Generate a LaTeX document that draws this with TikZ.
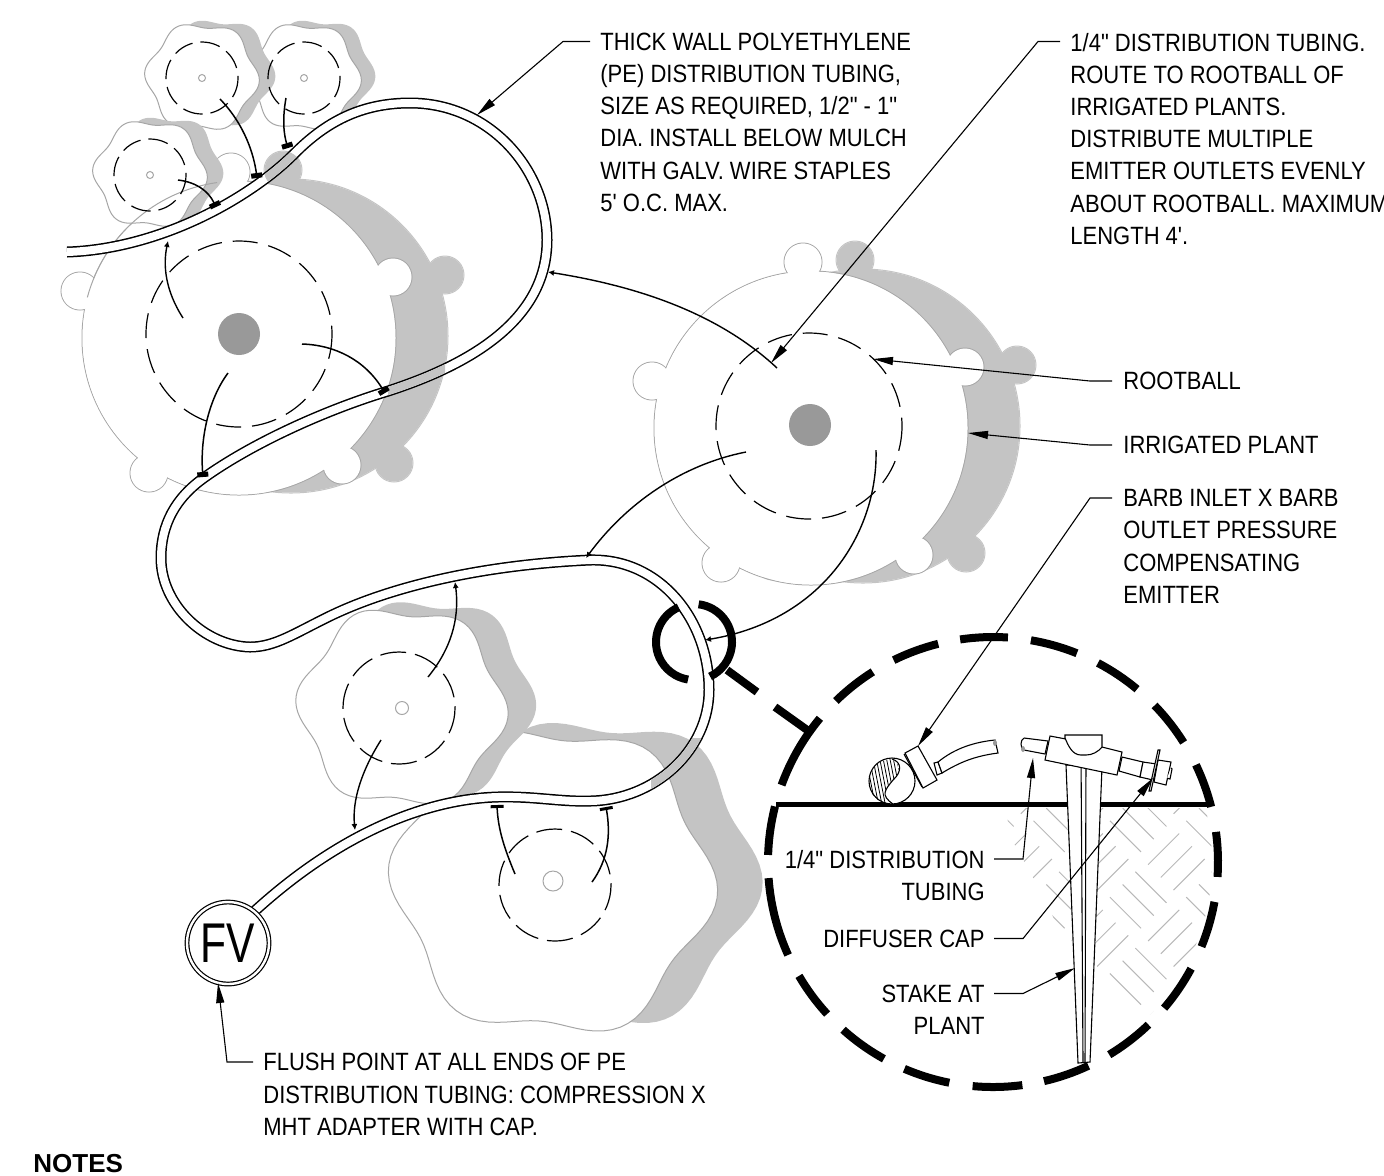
\documentclass[tikz,border=0pt]{standalone}
\usepackage{fontspec}
\setmainfont{Liberation Sans}[FakeStretch=0.88,Ligatures=TeXOff]
\newfontfamily\notesfont{Liberation Sans}[Ligatures=TeXOff]
\newfontfamily\fvfont{Liberation Sans}[FakeStretch=0.76]
\usetikzlibrary{arrows.meta}
\definecolor{plantshade}{HTML}{C4C4C4}
\definecolor{plantline}{HTML}{A6A6A6}
\definecolor{rootcore}{HTML}{999999}
\definecolor{soilline}{HTML}{B8B8B8}
\tikzset{
  outline/.style={draw=plantline,line width=0.5pt},
  rootball/.style={draw=black,line width=0.6pt},
  tube/.style={draw=black,line width=0.75pt,double=white,double distance=4pt},
  lateral/.style={draw=black,line width=0.75pt,-{Rectangle[length=2.5pt,width=5.5pt]}},
  lateralthin/.style={draw=black,line width=0.75pt,-{Rectangle[length=1.5pt,width=6.5pt]}},
  lateraltip/.style={draw=black,line width=0.7pt,-{Latex[length=3pt,width=3pt]}},
  leader/.style={draw=black,line width=0.55pt,-{Triangle[length=10pt,width=4pt]}},
  labeltext/.style={inner sep=0pt,font=\fontsize{12.5}{16.1}\selectfont},
  detail/.style={draw=black,line width=0.55pt,fill=white},
  callout/.style={draw=black,line width=4pt},
}
\newcommand{\bumpplant}[4]{
  \foreach \dx/\dy in {-159/-47,-90/135,103/127,154/-61,-8/-166} {
    \draw[draw=#2,line width=0.5pt] (#3+\dx,#4+\dy) circle[radius=19];
  }
  \draw[draw=#2,line width=0.5pt] (#3,#4) circle[radius=157];
  \foreach \dx/\dy in {-159/-47,-90/135,103/127,154/-61,-8/-166} {
    \fill[#1] (#3+\dx,#4+\dy) circle[radius=18.5];
  }
  \fill[#1] (#3,#4) circle[radius=156.5];
}
\newcommand{\lobepath}[3]{
  plot[domain=0:360,samples=121] ({#1+(#3+0.065*#3*cos(6*(\x+175)))*cos(\x)},{#2-1+0.97*(#3+0.065*#3*cos(6*(\x+175)))*sin(\x)}) -- cycle
}
\newcommand{\tubeline}{
  (67,252) .. controls (130,250) and (200,225) .. (258,184)
  .. controls (272,174) and (283,165) .. (295,153)
  .. controls (325,123) and (360,103) .. (410,103)
  .. controls (490,103) and (547,170) .. (547,240)
  .. controls (547,320) and (470,365) .. (385,392)
  .. controls (320,412) and (250,445) .. (205,477)
  .. controls (175,498) and (161,525) .. (161,558)
  .. controls (161,605) and (205,646) .. (250,647)
  .. controls (275,647) and (295,633) .. (330,616)
  .. controls (390,587) and (480,565) .. (590,560)
  .. controls (660,558) and (709,620) .. (709,690)
  .. controls (709,750) and (655,800) .. (590,801)
  .. controls (560,802) and (535,796) .. (497,797)
  .. controls (430,799) and (340,830) .. (245,920)
}
\begin{document}
\begin{tikzpicture}[x=0.5pt,y=0.5pt,yscale=-1]
\useasboundingbox (0,0) rectangle (1384,1175);

\fill[plantshade] \lobepath{598}{874}{155};
\filldraw[fill=white,outline] \lobepath{553}{882}{155};
\fill[plantshade] \lobepath{430}{700}{100};
\filldraw[fill=white,outline] \lobepath{402}{708}{100};

\bumpplant{plantshade}{plantshade}{291}{336}
\bumpplant{white}{plantline}{239}{338}
\bumpplant{plantshade}{plantshade}{863}{426}
\bumpplant{white}{plantline}{811}{428}

\fill[plantshade] \lobepath{318}{74}{54};
\filldraw[fill=white,outline] \lobepath{304}{78}{54};
\fill[plantshade] \lobepath{218}{74}{54};
\filldraw[fill=white,outline] \lobepath{202}{78}{54};
\fill[plantshade] \lobepath{166}{171}{54};
\filldraw[fill=white,outline] \lobepath{150}{175}{54};
\draw[outline] (239,338) ++(195:157) arc[start angle=195,end angle=262,radius=157];

\fill[rootcore] (239,334) circle[radius=21];
\fill[rootcore] (810,425) circle[radius=21];
\draw[outline] (202,78) circle[radius=3.5];
\draw[outline] (304,78) circle[radius=3.5];
\draw[outline] (150,175) circle[radius=3.5];
\draw[outline] (402,708) circle[radius=6.5];
\draw[outline] (553,881) circle[radius=10];

\draw[rootball,dash pattern=on 10pt off 4pt] (202,78) circle[radius=36];
\draw[rootball,dash pattern=on 10pt off 4pt] (304,78) circle[radius=36];
\draw[rootball,dash pattern=on 10pt off 4pt] (150,175) circle[radius=36];
\draw[rootball,dash pattern=on 12.5pt off 5.5pt] (239,334) circle[radius=93];
\draw[rootball,dash pattern=on 12.5pt off 5.5pt] (809,426) circle[radius=93];
\draw[rootball,dash pattern=on 13pt off 4.5pt] (399,708) circle[radius=56];
\draw[rootball,dash pattern=on 13pt off 4.5pt] (555,885) circle[radius=56];

\draw[tube] \tubeline;
\begin{scope}
\clip (283,170) circle[radius=19];
\draw[plantshade,line width=3.9pt] \tubeline;
\end{scope}
\begin{scope}
\clip (388,350) rectangle (445,410);
\draw[plantshade,line width=3.9pt] \tubeline;
\end{scope}
\begin{scope}
\clip (651,738) rectangle (712,800);
\draw[plantshade,line width=3.9pt] \tubeline;
\end{scope}

\draw[lateral] (220,99) .. controls (245,125) and (254,155) .. (257,178);
\draw[lateral] (286,98) .. controls (282,120) and (284,135) .. (288,148);
\draw[lateral] (178,180) .. controls (195,182) and (208,190) .. (216,207);
\draw[lateraltip] (183,318) .. controls (165,290) and (163,265) .. (168,241);
\draw[lateral] (302,344) .. controls (335,345) and (365,360) .. (385,393);
\draw[lateral] (228,373) .. controls (208,400) and (200,440) .. (203,477);
\draw[lateraltip] (777,368) .. controls (715,310) and (630,285) .. (548,272);
\draw[lateraltip] (746,452) .. controls (680,465) and (625,505) .. (586,558);
\draw[lateraltip] (876,450) .. controls (878,530) and (825,620) .. (705,640);
\draw[lateraltip] (428,677) .. controls (450,650) and (460,620) .. (455,582);
\draw[lateraltip] (381,740) .. controls (362,770) and (352,800) .. (355,830);
\draw[lateralthin] (515,874) .. controls (505,850) and (498,830) .. (497,805);
\draw[lateralthin] (592,882) .. controls (608,860) and (611,835) .. (606,807);

\node[circle,draw=black,fill=white,line width=0.6pt,double,double distance=1.2pt,minimum size=41pt,inner sep=0pt,font=\fvfont\fontsize{28}{28}\selectfont] (fv) at (228,943) {FV};

\draw[callout] (694,642) ++(246:38) arc[start angle=246,end angle=99,radius=38];
\draw[callout] (694,642) ++(-83:38) arc[start angle=-83,end angle=65,radius=38];
\draw[callout] (727,670) -- (757,692);
\draw[callout] (775,707) -- (810,732);
\coordinate (inset) at (993,862);
\foreach \a/\b in {200/219.7,225.7/237.7,243.8/255.9,261.6/273.8,279.7/291.9,297.8/309.8,315.9/327.9,334.4/345.8,352.3/363.8,10.2/22.1,28.3/40.5,46.3/58.9,64.9/76.9,82.5/95.2,101.2/113.2,119/131.8,137.5/149.6,155.6/175.9,181.8/194.3} {
  \draw[callout] (inset) ++(\a:225) arc[start angle=\a,end angle=\b,radius=225];
}
\draw[draw=black,line width=2.5pt] (776,804) -- (1210,804);

\begin{scope}
\clip (inset) circle[radius=219];
\clip (1005,808) -- (1225,808) -- (1225,1040) -- (1150,1015) -- (1105,978) -- (1057,925) -- (1040,890) -- (1012,840) -- cycle;
\begin{scope}[shift={(1100,900)},rotate=45]
\foreach \i in {-4,...,4} {
  \foreach \j in {-4,...,4} {
    \pgfmathtruncatemacro{\k}{\i+\j}
    \ifodd\k
      \foreach \n in {9,27,45} {\draw[soilline,line width=0.5pt] (54*\i+5,54*\j+\n) -- (54*\i+49,54*\j+\n);}
    \else
      \foreach \n in {9,27,45} {\draw[soilline,line width=0.5pt] (54*\i+\n,54*\j+5) -- (54*\i+\n,54*\j+49);}
    \fi
  }
}
\end{scope}
\end{scope}

\draw[detail] (1066,765) -- (1102,767) -- (1090,1062) -- (1078,1063) -- cycle;
\draw[line width=0.55pt] (1081,755) -- (1083,1062);
\draw[line width=0.55pt] (1086,755) -- (1085,1062);

\draw[detail] (1024,738) -- (1048,741) -- (1045,754) -- (1024,750) .. controls (1020,748) and (1020,740) .. (1024,738);
\fill[rootcore] (1023,749) ellipse[x radius=2,y radius=3];
\draw[detail] (1050,736) -- (1066,739) -- (1102,747) -- (1122,752) -- (1117,775) -- (1045,760) -- cycle;
\draw[detail] (1065,735) -- (1102,735) -- (1102,747) .. controls (1098,752) and (1092,755) .. (1086,755) -- (1081,755) .. controls (1072,755) and (1068,745) .. (1065,738) -- cycle;
\draw[detail] (1122,757) -- (1143,762) -- (1140,777) -- (1119,771) -- cycle;
\draw[detail] (1143,762) -- (1157,764) -- (1153,780) -- (1140,777) -- cycle;
\draw[detail] (1158,760) -- (1171,762) -- (1166,785) -- (1154,782) -- cycle;
\draw[detail] (1171,768) -- (1172,769) -- (1170,779) -- (1167,778);
\draw[detail] (1158,750) -- (1160,750) -- (1151,791) -- (1149,791) -- cycle;

\draw[detail] (892,781) circle[radius=23];
\begin{scope}
\clip (890,759) arc[start angle=-95,end angle=-265,radius=23] .. controls (880,795) and (885,790) .. (893,780) .. controls (902,770) and (900,762) .. (890,759);
\foreach \n in {0,...,17} {
  \draw[line width=0.4pt] (862+3.4*\n,755) -- (872+3.4*\n,806);
}
\end{scope}
\draw[line width=0.55pt] (892,759) .. controls (902,762) and (902,772) .. (893,780) .. controls (885,790) and (880,795) .. (893,804);
\draw[detail] (905,753) -- (918,746) -- (937,780) -- (923,788) -- cycle;
\draw[line width=0.55pt] (904,754) -- (922,787);
\draw[detail] (934,763) -- (938,762) -- (942,773) -- (937,775) -- cycle;
\draw[detail] (938,762) .. controls (955,748) and (975,742) .. (995,740) -- (998,753) .. controls (975,756) and (960,762) .. (942,773) -- cycle;
\fill[rootcore] (995,743) ellipse[x radius=2,y radius=3];

\node[labeltext,anchor=north west,align=left] (thicklabel) at (600,32.5) {THICK WALL POLYETHYLENE\\(PE) DISTRIBUTION TUBING,\\SIZE AS REQUIRED, 1/2" - 1"\\DIA. INSTALL BELOW MULCH\\WITH GALV. WIRE STAPLES\\5' O.C. MAX.};
\node[labeltext,anchor=north west,align=left] (distlabel) at (1070,32.5) {1/4" DISTRIBUTION TUBING.\\ROUTE TO ROOTBALL OF\\IRRIGATED PLANTS.\\DISTRIBUTE MULTIPLE\\EMITTER OUTLETS EVENLY\\ABOUT ROOTBALL. MAXIMUM\\LENGTH 4'.};
\node[labeltext,anchor=north west] (rootlabel) at (1123,372) {ROOTBALL};
\node[labeltext,anchor=north west] (plantlabel) at (1123,436) {IRRIGATED PLANT};
\node[labeltext,anchor=north west,align=left] (barblabel) at (1123,489) {BARB INLET X BARB\\OUTLET PRESSURE\\COMPENSATING\\EMITTER};
\node[labeltext,anchor=north west,align=left] (flushlabel) at (263,1053) {FLUSH POINT AT ALL ENDS OF PE\\DISTRIBUTION TUBING: COMPRESSION X\\MHT ADAPTER WITH CAP.};
\node[labeltext,anchor=north east,align=right] (tubinglabel) at (985,850) {1/4" DISTRIBUTION\\TUBING};
\node[labeltext,anchor=north east] (caplabel) at (985,929.5) {DIFFUSER CAP};
\node[labeltext,anchor=north east,align=right] (stakelabel) at (985,984.5) {STAKE AT\\PLANT};
\node[inner sep=0pt,anchor=north west,font=\notesfont\bfseries\fontsize{13}{13}\selectfont] (noteslabel) at (33,1153.5) {NOTES};

\coordinate (thicktip) at (477,115);
\coordinate (disttip) at (771,363);
\coordinate (roottip) at (873,359);
\coordinate (planttip) at (968,433);
\coordinate (barbtip) at (918,746);
\coordinate (tubingtip) at (1033,758);
\coordinate (captip) at (1153,778);
\coordinate (staketip) at (1075,968);
\coordinate (flushtip) at (218,983);

\draw[leader] ([shift={(-10,9)}]thicklabel.north west) -- ++(-27,0) -- (thicktip);
\draw[leader] ([shift={(-10,9)}]distlabel.north west) -- ++(-22,0) -- (disttip);
\draw[leader] ([shift={(-11,9)}]rootlabel.north west) -- ++(-22,0) -- (roottip);
\draw[leader] ([shift={(-11,9)}]plantlabel.north west) -- ++(-22,0) -- (planttip);
\draw[leader] ([shift={(-11,9)}]barblabel.north west) -- ++(-22,0) -- (barbtip);
\draw[leader] ([shift={(-10,9)}]flushlabel.north west) -- ++(-26,0) -- (flushtip);
\draw[leader] ([shift={(9,9)}]tubinglabel.north east) -- ++(29,0) -- (tubingtip);
\draw[leader] ([shift={(9,9)}]caplabel.north east) -- ++(29,0) -- (captip);
\draw[leader] ([shift={(9,9)}]stakelabel.north east) -- ++(29,0) -- (staketip);
\end{tikzpicture}
\end{document}
